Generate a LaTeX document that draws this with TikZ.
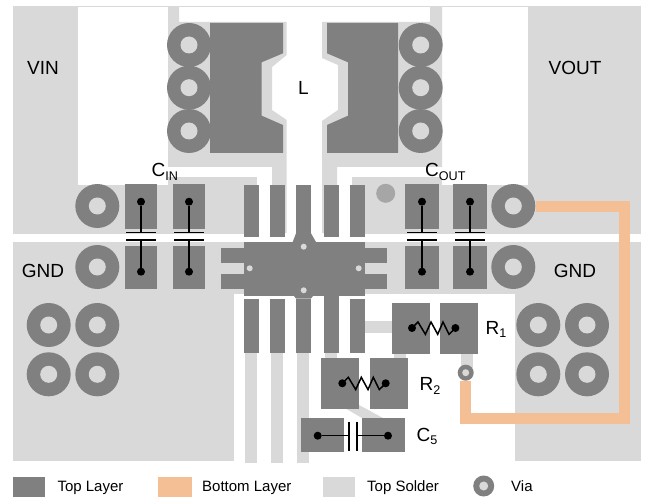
\documentclass[tikz,border=0pt]{standalone}
\usepackage{fontspec}
\setmainfont{Liberation Sans}
\definecolor{cu}{HTML}{808080}
\definecolor{sold}{HTML}{D9D9D9}
\definecolor{bot}{HTML}{F4BF94}
\newcommand{\lbl}[1]{\fontsize{19}{22}\selectfont #1}
\newcommand{\leg}[1]{\fontsize{15}{17}\selectfont #1}
\newcommand{\subs}[1]{\raisebox{-0.2em}{\fontsize{12.6}{15}\selectfont #1}}
\tikzset{
 x=1pt,y=-1pt,
 solder/.style={fill=sold,draw=none},
 copper/.style={fill=cu,draw=none},
 wire/.style={draw=black,line width=1.5pt},
 dotend/.style={circle,fill=black,inner sep=0pt,minimum size=8pt},
 txt/.style={inner sep=0pt,text=black},
 txtl/.style={inner sep=0pt,anchor=base west,text=black}
}
% via: name, x, y
\newcommand{\via}[3]{\node[circle,fill=cu,inner sep=0pt,minimum size=44pt] (#1) at (#2,#3) {};
 \node[circle,fill=sold,inner sep=0pt,minimum size=17pt] at (#1) {};}
% vertical cap: name, x, top dot y, bottom dot y
\newcommand{\capv}[4]{
 \node[dotend] (#1a) at (#2,#3) {};
 \node[dotend] (#1b) at (#2,#4) {};
 \coordinate (#1p) at (#2,232.7);
 \coordinate (#1q) at (#2,240);
 \draw[wire] (#1a) -- (#1p);
 \draw[wire] (#1q) -- (#1b);
 \draw[wire] ([xshift=-14.7pt]#1p) -- ([xshift=14.7pt]#1p);
 \draw[wire] ([xshift=-14.7pt]#1q) -- ([xshift=14.7pt]#1q);
}
% resistor: name, centre x, y
\newcommand{\resi}[3]{
 \node[dotend] (#1a) at (#2-21.7,#3) {};
 \node[dotend] (#1b) at (#2+21.7,#3) {};
 \draw[wire,line join=miter] (#1a.center) -- ++(6,-6) -- ++(7.4,12.3) -- ++(5.6,-12.3) -- ++(6.7,12.3) -- ++(5.3,-12.3) -- ++(6,12.3) -- (#1b.center);
}
\begin{document}
\begin{tikzpicture}
\useasboundingbox (0,0) rectangle (645,497);
\fill[white] (0,0) rectangle (645,497);
% ---------- top solder
\draw[sold,line width=0.6pt] (13,6.5) -- (641,6.5);
\path[solder] (13,7) rectangle (78,234);
\path[solder] (78,185) rectangle (257,234);
\path[solder] (168,177) rectangle (257,185);
\path[solder] (168,7) -- (179,7) -- (179,22) -- (286.7,22) -- (286.7,55) -- (272,67) -- (272,110) -- (286.7,120) -- (286.7,233) -- (272,233) -- (272,167) -- (168,167) -- cycle;
\path[solder] (430,7) -- (442,7) -- (442,167) -- (337,167) -- (337,233) -- (322,233) -- (322,121) -- (338,110) -- (338,65) -- (322,58) -- (322,22) -- (430,22) -- cycle;
\path[solder] (352,177) rectangle (442,185);
\path[solder] (352,185) rectangle (528,234);
\path[solder] (528,7) rectangle (641,234);
\path[solder] (13,242) rectangle (641,294);
\path[solder] (13,294) rectangle (234,461);
\path[solder] (515,294) rectangle (641,461);
\path[solder] (245,353) rectangle (257,463);
\path[solder] (271,353) rectangle (283,463);
\path[solder] (297,353) rectangle (309,463);
\path[solder] (365,321) rectangle (392,332.7);
\path[solder] (324.7,353) rectangle (336.7,358);
\path[solder] (394,354) rectangle (406,358);
\path[solder] (461,354) rectangle (473,368);
\path[solder] (346,408.7) -- (359,405) -- (383,418) -- (362,418) -- cycle;
% ---------- bottom layer trace corners
\coordinate (tr1) at (466.7,418);
\coordinate (tr2) at (624.7,418);
\coordinate (tr3) at (624.7,206.8);
% ---------- top layer: inductor pads
\path[copper] (210,23) -- (283,23) -- (283,53.3) -- (261.7,62.3) -- (261.7,115.7) -- (283,125) -- (283,153) -- (210,153) -- cycle;
\path[copper] (398,23) -- (327,23) -- (327,53.3) -- (348,62.3) -- (348,115.7) -- (327,125) -- (327,153) -- (398,153) -- cycle;
% ---------- IC
\path[copper] (244,242) rectangle (365,296);
\foreach \xa in {244,270,296,324,350} \path[copper] (\xa,185) rectangle (\xa+15,236.7);
\path[copper] (296,233.3) -- (292.7,242) -- (316,242) -- (311,233.3) -- cycle;
\path[copper] (294,296) -- (296,298.5) -- (311,298.5) -- (313,296) -- cycle;
\foreach \xa in {244,270,296,350} \path[copper] (\xa,299) rectangle (\xa+15,353);
\path[copper] (324,296) rectangle (339,353);
\path[copper] (221,248) rectangle (244,263);
\path[copper] (221,274) rectangle (244,289);
\path[copper] (365,248) rectangle (387,263);
\path[copper] (365,274) rectangle (387,289);
\foreach \xa/\ya in {303.7/246.7,303.7/290.3,249.7/268.3,358.7/268.3}
  \fill[sold] (\xa,\ya) circle[radius=3];
\fill[fill=black!35] (385.7,193.3) circle[radius=9.5];
% ---------- capacitor pads
\foreach \xa/\xb in {125/157,173/205,405/439,453/487}{
  \path[copper] (\xa,184) rectangle (\xb,229);
  \path[copper] (\xa,246) rectangle (\xb,289);
}
% ---------- R1, R2, C5 pads
\path[copper] (392,303) rectangle (430,354);
\path[copper] (440,303) rectangle (478,354);
\path[copper] (321,358) rectangle (359,409);
\path[copper] (370,358) rectangle (408,409);
\path[copper] (301,418) rectangle (344,451.7);
\path[copper] (362,418) rectangle (405,451.7);
% ---------- vias
\via{vl1}{189}{45}\via{vl2}{189}{87.7}\via{vl3}{189}{131}
\via{vr1}{420.7}{45}\via{vr2}{420.7}{87.7}\via{vr3}{420.7}{131}
\via{vin}{97.3}{206}\via{gl}{97.3}{267}
\via{vo}{513.3}{206}\via{gr}{513.3}{267}
\via{gl1}{48.7}{325}\via{gl2}{97.3}{325}\via{gl3}{48.7}{374.3}\via{gl4}{97.3}{374.3}
\via{gr1}{538.3}{325}\via{gr2}{587}{325}\via{gr3}{538.3}{374.3}\via{gr4}{587}{374.3}
\node[circle,fill=cu,inner sep=0pt,minimum size=16pt] (vs) at (465.7,372.7) {};
\node[circle,fill=sold,inner sep=0pt,minimum size=7pt] at (vs) {};
\draw[bot,line width=11pt,line join=miter] (vs.south) -- (vs.south |- tr1) -- (tr2) -- (tr3) -- (vo.east |- tr3);
% ---------- symbols
\capv{c1}{141}{201.7}{271.7}
\capv{c2}{189}{201.7}{271.7}
\capv{c3}{422}{201.7}{271.7}
\capv{c4}{470}{201.7}{271.7}
\resi{r1}{433.7}{328}
\resi{r2}{364}{383.3}
\node[dotend] (c5a) at (317.7,435.7) {};
\node[dotend] (c5b) at (388,435.7) {};
\coordinate (c5p) at (349,435.7);
\coordinate (c5q) at (357,435.7);
\draw[wire] (c5a) -- (c5p);
\draw[wire] (c5b) -- (c5q);
\draw[wire] (349,421.7) -- (349,450.7);
\draw[wire] (357,421.7) -- (357,450.7);
% ---------- labels
\node[txt] (lvin) at (43,68) {\lbl{VIN}};
\node[txt] (lvout) at (575,68) {\lbl{VOUT}};
\node[txt] (ll) at (303.5,88) {\lbl{L}};
\node[txt] (lgl) at (43,271) {\lbl{GND}};
\node[txt] (lgr) at (575,271) {\lbl{GND}};
\node[txtl] (lcin) at (151.5,176.7) {\lbl{C\subs{IN}}};
\node[txtl] (lcout) at (425,176.7) {\lbl{C\subs{OUT}}};
\node[txtl] (lr1) at (485.5,334) {\lbl{R\subs{1}}};
\node[txtl] (lr2) at (419.5,390.7) {\lbl{R\subs{2}}};
\node[txtl] (lc5) at (416.5,441) {\lbl{C\subs{5}}};
% ---------- legend
\path[copper] (13,477) rectangle (45,497);
\path[fill=bot] (158,477) rectangle (192,497);
\path[solder] (323,477) rectangle (355,497);
\node[circle,fill=cu,inner sep=0pt,minimum size=21pt] (lv) at (483.7,486) {};
\node[circle,fill=sold,inner sep=0pt,minimum size=9pt] at (lv) {};
\node[txtl] (t1) at (57.3,491.5) {\leg{Top Layer}};
\node[txtl] (t2) at (202,491.5) {\leg{Bottom Layer}};
\node[txtl] (t3) at (367,491.5) {\leg{Top Solder}};
\node[txtl] (t4) at (511,491.5) {\leg{Via}};
\end{tikzpicture}
\end{document}
